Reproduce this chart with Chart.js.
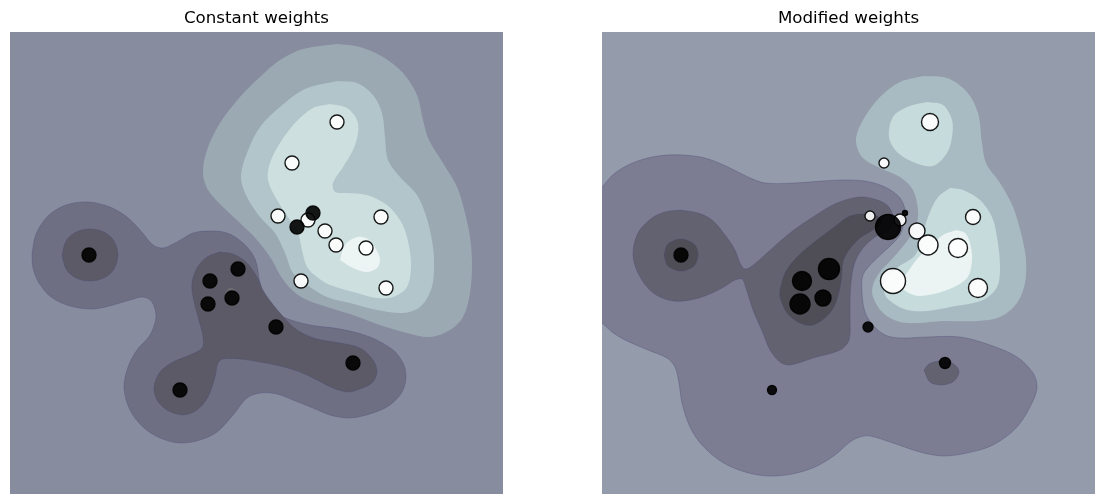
<!DOCTYPE html>
<html><head><meta charset="utf-8">
<script src="https://cdn.jsdelivr.net/npm/chart.js@4"></script>
<style>
html,body{margin:0;background:#fff;width:1104px;height:504px;overflow:hidden}
.p{position:absolute;top:0;width:493px;height:494px}
#a{left:10px}#b{left:602px}
</style></head><body>
<div class="p" id="a"><canvas id="c1" width="493" height="494"></canvas></div>
<div class="p" id="b"><canvas id="c2" width="493" height="494"></canvas></div>
<script>
// ---- Constant weights: decision-function contours, in grid units
const leftNeg1=[[22,222],[26,202],[38,184],[56,173],[78,170],[100,175],[117,185],[130,198],[143,213],[153,216],[167,210],[183,201],[200,199],[217,201],[233,211],[245,227],[251,255],[260,275],[273,285],[300,293],[330,297],[360,305],[383,318],[393,331],[396,345],[392,360],[380,373],[363,381],[340,386],[320,383],[303,376],[283,368],[267,362],[250,361],[237,366],[223,383],[207,400],[190,408],[170,411],[150,406],[133,395],[120,378],[114,356],[118,335],[127,318],[140,303],[146,285],[142,270],[133,265],[120,268],[103,273],[83,277],[60,274],[41,265],[29,251],[23,236],[22,222]];
const leftNeg2Body=[[210,220],[223,222],[236,230],[247,245],[254,260],[270,281],[287,298],[307,307],[330,311],[350,316],[363,328],[367,340],[362,351],[350,357],[338,360],[323,356],[307,348],[290,340],[270,334],[250,330],[230,327],[213,327],[208,331],[205,345],[198,365],[187,378],[173,383],[157,378],[147,368],[144,355],[150,340],[163,330],[180,323],[192,316],[193,305],[188,285],[183,265],[182,251],[187,236],[197,225],[210,220]];
const leftNeg2Lobe=[[52,223],[56,209],[66,200],[80,197],[94,200],[104,209],[108,223],[104,237],[94,246],[80,249],[66,246],[56,237],[52,223]];
const leftPatch=[[215,262],[219,256],[224,257],[228,263],[224,268],[217,268],[215,262]];
const leftPos1=[[327,12],[350,15],[373,25],[393,41],[407,63],[413,88],[419,108],[433,131],[447,155],[455,181],[460,205],[462,232],[460,261],[453,285],[440,298],[420,305],[397,301],[367,292],[343,283],[317,275],[293,266],[280,256],[270,243],[262,228],[247,208],[230,191],[213,175],[198,158],[193,141],[197,118],[210,91],[230,65],[250,45],[270,28],[293,17],[327,12]];
const leftPos2=[[327,49],[347,51],[363,63],[372,81],[375,105],[378,128],[390,145],[407,163],[417,187],[423,215],[424,238],[421,258],[410,275],[393,281],[367,278],[340,271],[317,265],[297,253],[283,241],[275,221],[265,201],[250,185],[237,165],[231,145],[237,121],[250,95],[270,75],[295,57],[327,49]];
const leftPos3=[[320,72],[337,76],[347,88],[348,101],[343,118],[333,135],[323,151],[325,160],[337,161],[357,163],[377,173],[390,188],[397,205],[401,232],[397,255],[383,265],[367,266],[347,261],[320,253],[307,245],[297,235],[292,218],[288,201],[280,188],[267,168],[258,148],[260,131],[270,111],[285,91],[303,76],[320,72]];
const leftPos4=[[330,228],[343,236],[357,240],[367,236],[370,228],[366,217],[358,207],[347,205],[335,213],[330,228]];
const leftWhite=[[327,90],[282,131],[268,184],[298,188],[315,199],[326,213],[356,216],[371,185],[291,249],[376,256]];
const leftBlack=[[79,223],[200,249],[228,237],[198,272],[222,266],[266,295],[343,331],[170,358],[287,195],[303,181]];
const leftWhiteSizes=[7,7,7,7,7,7,7,7,7,7];
const leftBlackSizes=[7,7,7,7,7,7,7,7,7,7];
// ---- Modified weights
const rightNeg1=[[0,155],[13,141],[33,130],[56,124],[80,123],[103,126],[126,135],[146,145],[163,151],[193,151],[220,149],[248,148],[268,150],[285,156],[298,166],[303,178],[302,190],[298,203],[287,215],[271,230],[261,243],[260,260],[263,280],[271,293],[283,303],[298,306],[325,305],[358,305],[388,313],[415,325],[431,341],[435,355],[430,371],[415,395],[391,413],[365,421],[341,424],[318,420],[291,411],[268,404],[258,405],[248,410],[233,423],[213,435],[190,442],[166,444],[143,440],[120,430],[100,413],[88,395],[80,371],[77,351],[73,335],[65,326],[46,318],[23,308],[10,300],[0,291],[-10,285],[-10,160],[0,155]];
const rightNeg2=[[78,178],[96,181],[110,188],[123,203],[133,218],[138,231],[143,237],[150,234],[165,221],[188,201],[211,185],[235,171],[258,165],[272,167],[285,173],[291,185],[286,198],[273,205],[261,216],[253,230],[249,250],[248,270],[248,285],[247,308],[238,318],[211,326],[188,333],[178,330],[168,318],[161,301],[151,278],[143,253],[140,247],[133,248],[120,256],[100,265],[81,269],[66,268],[50,260],[37,243],[31,223],[36,201],[50,186],[63,180],[78,178]];
const rightNeg2Island=[[322,338],[327,332],[338,329],[350,331],[357,339],[352,349],[340,353],[328,350],[322,338]];
const rightNeg3=[[178,258],[183,241],[195,225],[215,208],[235,193],[248,184],[262,182],[275,184],[280,190],[271,198],[258,206],[247,218],[241,230],[239,250],[234,270],[226,283],[211,293],[198,291],[185,281],[178,265],[178,258]];
const rightNeg3Lobe=[[62,223],[66,212],[79,207],[92,212],[96,222],[92,234],[79,239],[66,234],[62,223]];
const rightPos1=[[321,44],[345,46],[365,60],[376,81],[380,111],[384,131],[398,151],[411,175],[420,205],[424,228],[423,251],[415,271],[398,285],[375,289],[341,289],[315,291],[298,290],[281,281],[271,265],[271,253],[278,240],[291,226],[308,205],[315,190],[316,178],[311,158],[298,145],[278,136],[260,125],[254,108],[261,88],[278,65],[298,50],[321,44]];
const rightPos2Top=[[325,70],[341,73],[350,88],[350,105],[345,121],[331,134],[311,130],[295,120],[287,105],[291,85],[305,75],[325,70]];
const rightPos2Low=[[348,156],[336,165],[326,185],[314,222],[295,236],[283,250],[283,263],[291,271],[305,278],[325,279],[348,275],[381,268],[395,255],[398,235],[395,205],[390,185],[378,168],[361,158],[348,156]];
const rightPos3=[[355,198],[341,203],[328,215],[316,226],[305,241],[298,251],[305,260],[318,264],[345,258],[365,246],[370,228],[368,211],[363,201],[355,198]];
const rightWhite=[[328,90],[282,131],[268,184],[298,188],[315,199],[326,213],[356,216],[371,185],[291,249],[376,256]];
const rightBlack=[[79,223],[200,249],[227,237],[198,272],[221,266],[266,295],[343,331],[170,358],[286,195],[303,181]];
const rightWhiteSizes=[8.5,5,5,6,8,10,9.5,7.5,12.5,9.5];
const rightBlackSizes=[7,9.5,10.5,10,8,5,5.5,4.5,12.5,2.5];
// ---- Titles and level colours
const titles=["Constant weights","Modified weights"];
const leftBg="#888c9f", rightBg="#949baa";
const leftColors={n1:"#6f6f84",n2:"#5b5a66",patch:"#6b6b72",p1:"#9ba9b3",p2:"#b2c5ca",p3:"#cddfdf",p4:"#ecf4f4"};
const rightColors={n1:"#7c7c92",n2:"#636270",n3:"#4f4d55",p1:"#a9bbc2",p2:"#c6dbdb",p3:"#ebf4f3"};
const darkEdge="rgba(70,70,115,.4)";

const toPts=a=>a.map(([x,y])=>({x,y}));
function area(points,color,edge){
  return {type:"scatter",showLine:true,data:toPts(points),fill:"shape",backgroundColor:color,
    borderColor:edge||color,borderWidth:edge?0.8:0,pointRadius:0,pointHoverRadius:0,tension:.33};
}
function dots(points,sizes,color){
  return {type:"scatter",showLine:false,data:toPts(points),pointRadius:sizes,pointHoverRadius:sizes,
    pointBackgroundColor:color,pointBorderColor:"rgba(0,0,0,.9)",pointBorderWidth:1.4};
}
function make(id,title,bg,layers){
  const datasets=layers.map((d,i)=>Object.assign(d,{order:layers.length-i}));
  new Chart(document.getElementById(id),{
    type:"scatter",
    data:{datasets},
    options:{responsive:false,animation:false,devicePixelRatio:1,
      layout:{padding:0,autoPadding:false},
      scales:{x:{type:"linear",min:0,max:493,display:false},y:{type:"linear",min:0,max:462,reverse:true,display:false}},
      plugins:{legend:{display:false},tooltip:{enabled:false},
        title:{display:true,text:title,color:"#000",font:{family:"'DejaVu Sans'",size:16.67,weight:"normal",lineHeight:1.2},padding:{top:9,bottom:3}}}
    },
    plugins:[{id:"bg",beforeDatasetsDraw(c){const a=c.chartArea,g=c.ctx;g.save();g.fillStyle=bg;g.fillRect(a.left,a.top,a.right-a.left,a.bottom-a.top);g.restore();}}]
  });
}
make("c1",titles[0],leftBg,[
  area(leftNeg1,leftColors.n1,darkEdge),
  area(leftNeg2Body,leftColors.n2,darkEdge),
  area(leftNeg2Lobe,leftColors.n2,darkEdge),
  area(leftPatch,leftColors.patch),
  area(leftPos1,leftColors.p1),
  area(leftPos2,leftColors.p2),
  area(leftPos3,leftColors.p3),
  area(leftPos4,leftColors.p4),
  dots(leftWhite,leftWhiteSizes,"rgba(255,255,255,.9)"),
  dots(leftBlack,leftBlackSizes,"rgba(0,0,0,.9)")
]);
make("c2",titles[1],rightBg,[
  area(rightNeg1,rightColors.n1,darkEdge),
  area(rightNeg2,rightColors.n2,darkEdge),
  area(rightNeg2Island,rightColors.n2,darkEdge),
  area(rightNeg3,rightColors.n3,darkEdge),
  area(rightNeg3Lobe,rightColors.n3,darkEdge),
  area(rightPos1,rightColors.p1),
  area(rightPos2Top,rightColors.p2),
  area(rightPos2Low,rightColors.p2),
  area(rightPos3,rightColors.p3),
  dots(rightWhite,rightWhiteSizes,"rgba(255,255,255,.9)"),
  dots(rightBlack,rightBlackSizes,"rgba(0,0,0,.9)")
]);
</script>
</body></html>
